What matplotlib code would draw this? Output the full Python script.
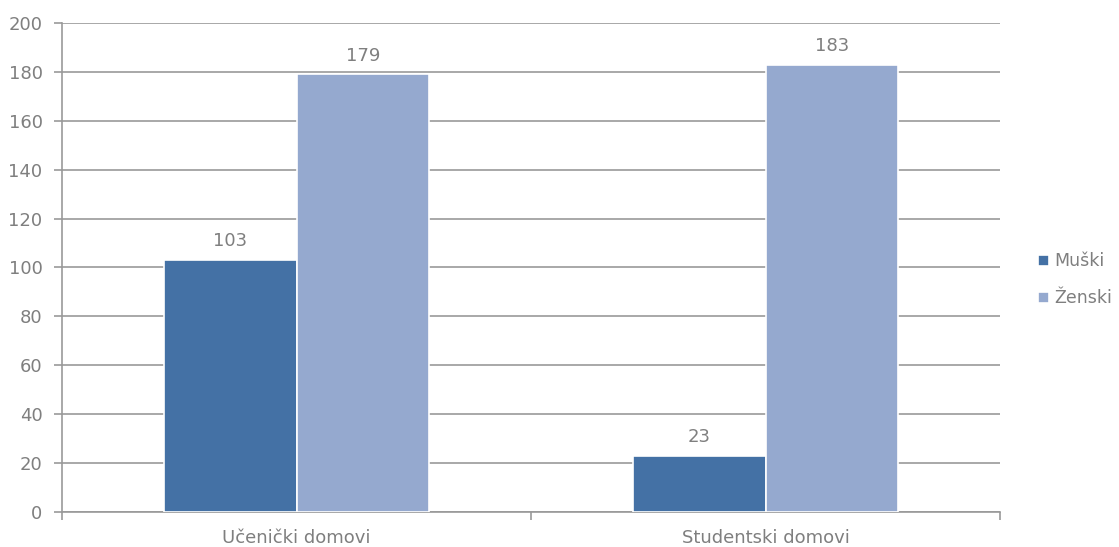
import matplotlib.pyplot as plt
import numpy as np

categories = ['Učenički domovi', 'Studentski domovi']
muski = [103, 23]
zenski = [179, 183]
yticks = [0, 20, 40, 60, 80, 100, 120, 140, 160, 180, 200]

c_m = '#4471a5'
c_z = '#95a9cf'
grey = '#7f7f7f'
line = '#999999'

plt.rcParams['font.family'] = ['DejaVu Sans']

fig = plt.figure(figsize=(11.19, 5.47), dpi=100)
ax = fig.add_axes([0.0554, 0.064, 0.8383, 0.894])

x = np.arange(len(categories))
w = 0.283
b1 = ax.bar(x - w / 2, muski, w, color=c_m, edgecolor='white', linewidth=1.2, label='Muški', zorder=3)
b2 = ax.bar(x + w / 2, zenski, w, color=c_z, edgecolor='white', linewidth=1.2, label='Ženski', zorder=3)

for bars in (b1, b2):
    for r in bars:
        ax.annotate(str(int(r.get_height())), (r.get_x() + r.get_width() / 2, r.get_height()),
                    xytext=(0, 7), textcoords='offset points', ha='center', va='bottom',
                    fontsize=13, color=grey)

ax.set_xlim(-0.5, 1.5)
ax.set_ylim(0, 200)
ax.set_yticks(yticks)
ax.yaxis.grid(True, color=line, linewidth=1.2, zorder=0)
ax.set_axisbelow(True)

ax.set_xticks([-0.5, 0.5, 1.5])
ax.set_xticklabels([])
ax.set_xticks(x, minor=True)
ax.set_xticklabels(categories, minor=True)
ax.tick_params(axis='x', which='major', length=6, color=line, width=1.2)
ax.tick_params(axis='x', which='minor', length=0, labelsize=13, labelcolor=grey, pad=12)
ax.tick_params(axis='y', length=6, color=line, width=1.2, labelsize=13, labelcolor=grey, pad=8)

for s in ['top', 'right']:
    ax.spines[s].set_visible(False)
for s in ['left', 'bottom']:
    ax.spines[s].set_color(line)
    ax.spines[s].set_linewidth(1.2)

ax.legend(loc='center left', bbox_to_anchor=(1.028, 0.475), frameon=False, fontsize=12.5,
          handlelength=0.6, handleheight=0.6, handletextpad=0.3, labelspacing=1.1,
          labelcolor=grey, borderpad=0.2)

fig.savefig('out.png', dpi=100)
